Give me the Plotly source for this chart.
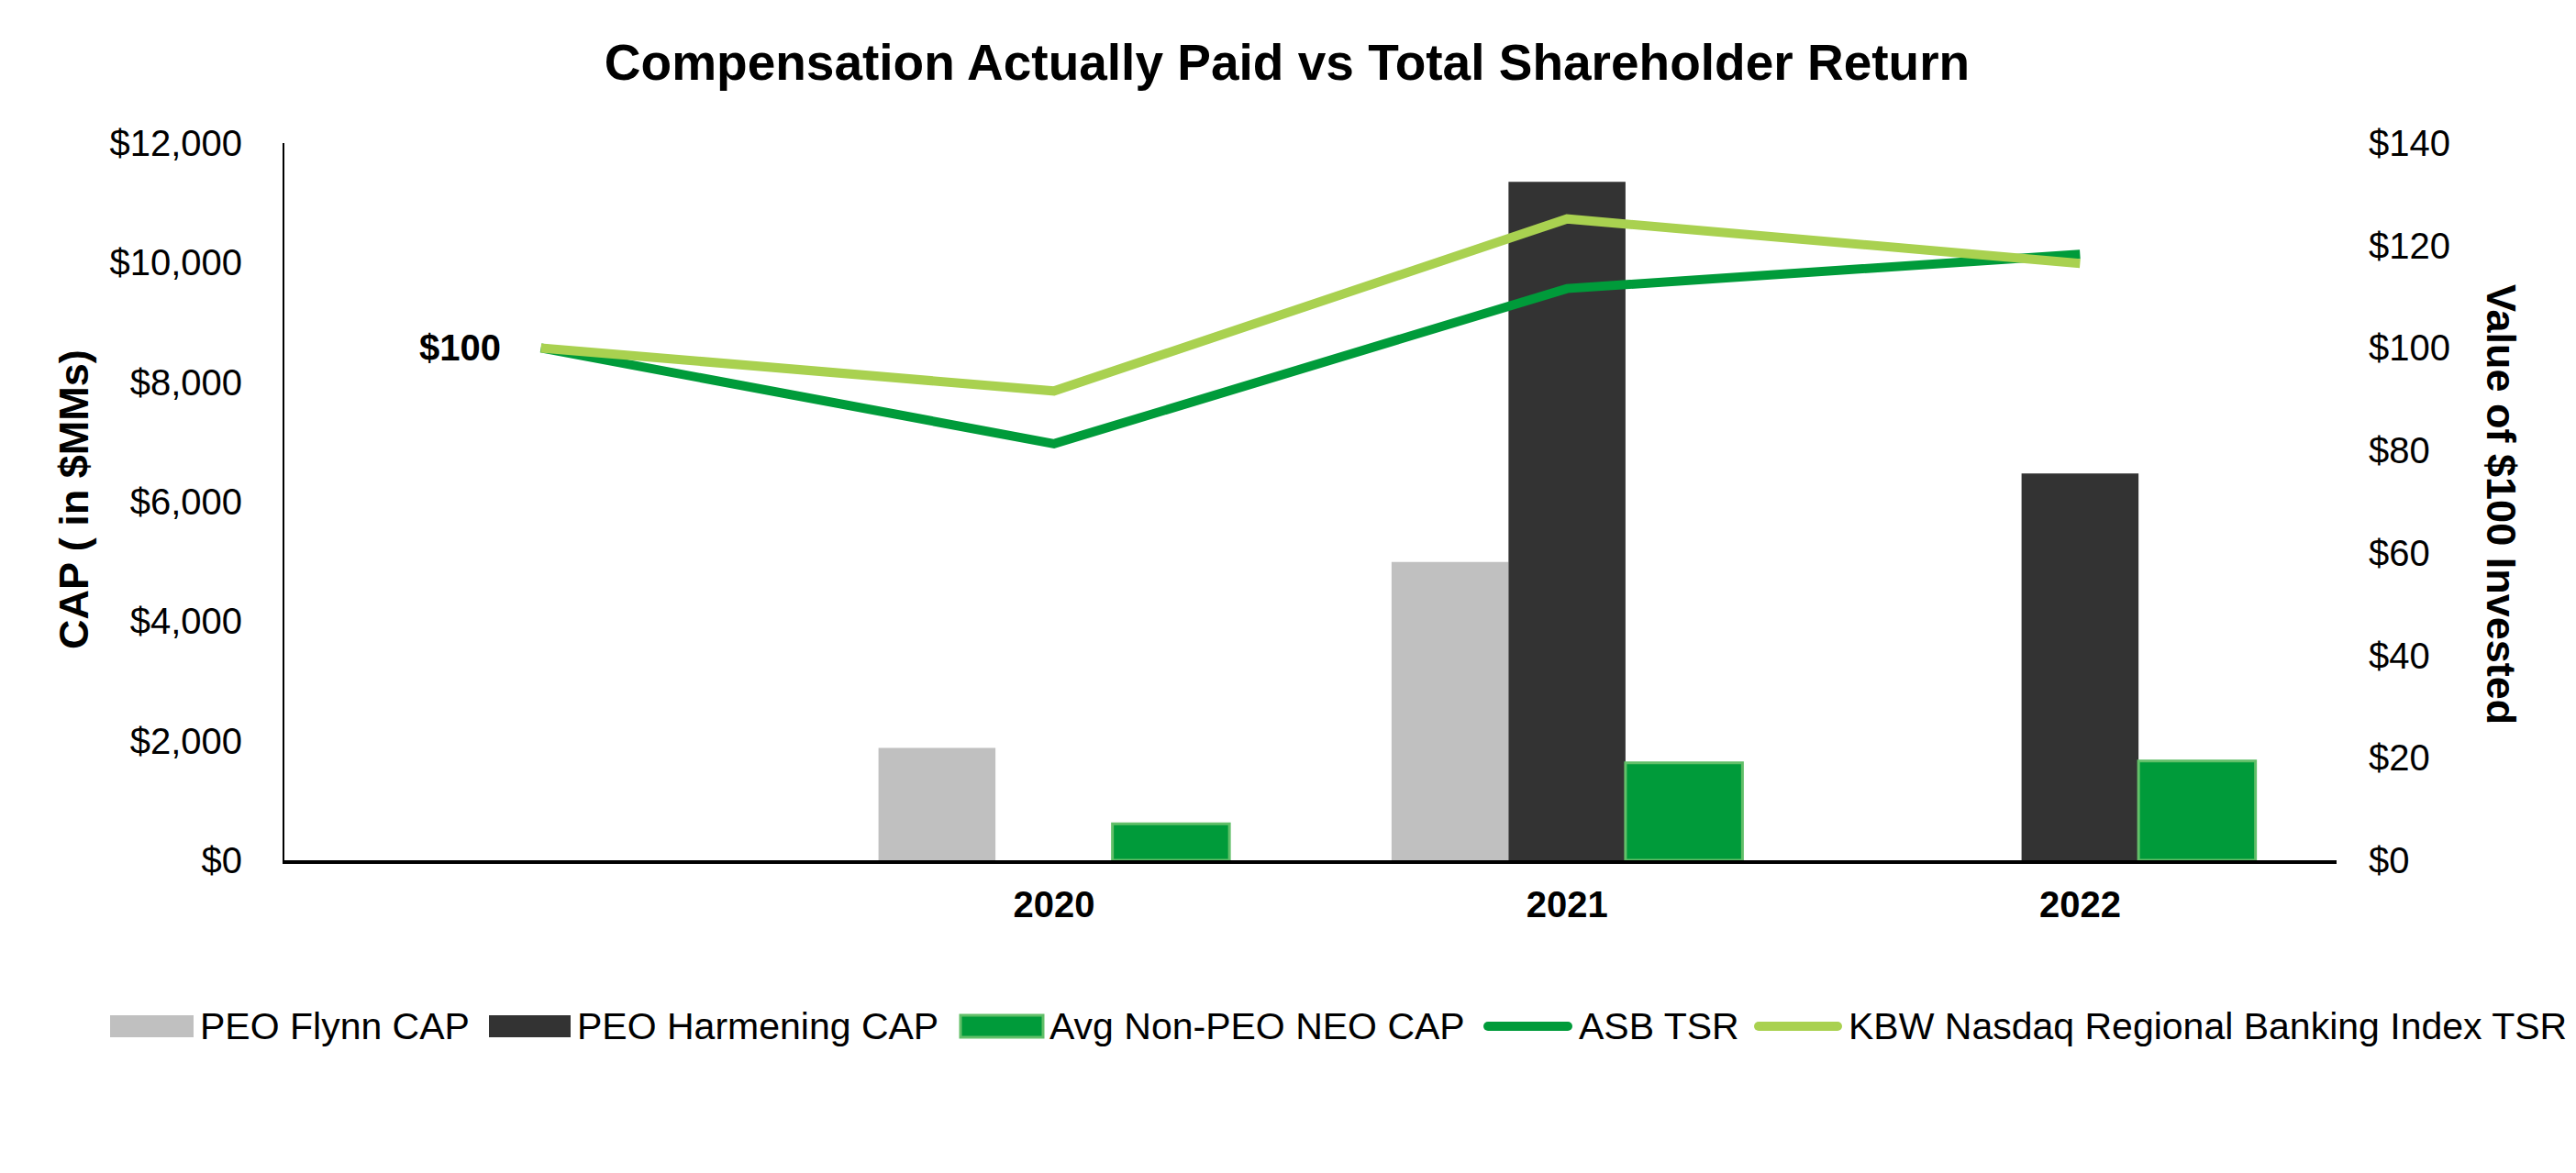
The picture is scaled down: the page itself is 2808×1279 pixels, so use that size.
import plotly.graph_objects as go

years = [2019, 2020, 2021, 2022]
tick_years = [2020, 2021, 2022]
tick_labels = ["2020", "2021", "2022"]

flynn_cap = [None, 1880, 4990, None]
harmening_cap = [None, None, 11350, 6470]
avg_neo_cap = [None, 610, 1630, 1660]

asb_tsr = [100, 81.3, 111.6, 118.3]
kbw_tsr = [100, 91.6, 125.2, 116.5]

left_ticks = [0, 2000, 4000, 6000, 8000, 10000, 12000]
left_tick_text = ["$0", "$2,000", "$4,000", "$6,000", "$8,000", "$10,000", "$12,000"]
right_ticks = [0, 20, 40, 60, 80, 100, 120, 140]
right_tick_text = ["$0", "$20", "$40", "$60", "$80", "$100", "$120", "$140"]

C_GRAY = "#C0C0C0"
C_DARK = "#333333"
C_GREEN = "#009B3A"
C_GREEN_EDGE = "#62BF69"
C_LIGHT = "#A9D150"
FONT = "Liberation Sans, Arial, sans-serif"

# page body has an 8px margin; size the figure so that it fills the window exactly
OFF = 8
W, H = 2808 - OFF, 1279 - OFF
ML, MR, MT, MB = 302, 261, 148, 341
PW, PH = W - ML - MR, H - MT - MB


def px_x(p):
    return (p - OFF - ML) / PW


def px_y(p):
    return (H - MB - (p - OFF)) / PH


fig = go.Figure()

bar_specs = [
    ("PEO Flynn CAP", flynn_cap, C_GRAY, C_GRAY, 0),
    ("PEO Harmening CAP", harmening_cap, C_DARK, C_DARK, 0),
    ("Avg Non-PEO NEO CAP", avg_neo_cap, C_GREEN, C_GREEN_EDGE, 3),
]
for name, vals, col, edge, lw in bar_specs:
    fig.add_trace(go.Bar(
        x=years, y=vals, name=name, yaxis="y",
        marker=dict(color=col, line=dict(color=edge, width=lw)),
    ))

line_specs = [("ASB TSR", asb_tsr, C_GREEN), ("KBW Nasdaq Regional Banking Index TSR", kbw_tsr, C_LIGHT)]
for name, vals, col in line_specs:
    fig.add_trace(go.Scatter(
        x=years, y=vals, name=name, mode="lines", yaxis="y2",
        line=dict(color=col, width=10),
    ))

# starting value label
fig.add_annotation(
    x=years[0], y=asb_tsr[0], xref="x", yref="y2", text="<b>$%d</b>" % asb_tsr[0],
    showarrow=False, xanchor="right", yanchor="middle", xshift=-42,
    font=dict(family=FONT, size=40, color="black"),
)

# axis titles
fig.add_annotation(
    x=px_x(80), y=px_y(545), xref="paper", yref="paper", text="<b>CAP ( in $MMs)</b>",
    textangle=-90, showarrow=False, xanchor="center", yanchor="middle",
    font=dict(family=FONT, size=45, color="black"),
)
fig.add_annotation(
    x=px_x(2727), y=px_y(550), xref="paper", yref="paper", text="<b>Value of $100 Invested</b>",
    textangle=90, showarrow=False, xanchor="center", yanchor="middle",
    font=dict(family=FONT, size=45, color="black"),
)

# legend (drawn manually to reproduce the wide symbols)
legend_y = 1119
legend_items = [
    ("PEO Flynn CAP", "bar", C_GRAY, C_GRAY, 120, 211),
    ("PEO Harmening CAP", "bar", C_DARK, C_DARK, 533, 622),
    ("Avg Non-PEO NEO CAP", "bar", C_GREEN, C_GREEN_EDGE, 1047, 1137),
    ("ASB TSR", "line", C_GREEN, C_GREEN, 1617, 1714),
    ("KBW Nasdaq Regional Banking Index TSR", "line", C_LIGHT, C_LIGHT, 1912, 2008),
]
for label, kind, col, edge, x0, x1 in legend_items:
    if kind == "bar":
        fig.add_shape(type="rect", xref="paper", yref="paper",
                      x0=px_x(x0), x1=px_x(x1), y0=px_y(legend_y - 12), y1=px_y(legend_y + 12),
                      fillcolor=col, line=dict(color=edge, width=3 if edge != col else 0))
    else:
        fig.add_shape(type="line", xref="paper", yref="paper",
                      x0=px_x(x0 + 5), x1=px_x(x1 - 5), y0=px_y(legend_y), y1=px_y(legend_y),
                      line=dict(color=col, width=10))
        for cx in (x0 + 5, x1 - 5):
            fig.add_shape(type="circle", xref="paper", yref="paper",
                          xsizemode="pixel", ysizemode="pixel",
                          xanchor=px_x(cx), yanchor=px_y(legend_y),
                          x0=-5, x1=5, y0=-5, y1=5,
                          fillcolor=col, line=dict(width=0))
    fig.add_annotation(
        x=px_x(x1 + 5), y=px_y(legend_y), xref="paper", yref="paper", text=label,
        showarrow=False, xanchor="left", yanchor="middle",
        font=dict(family=FONT, size=41, color="black"),
    )

fig.update_layout(
    width=W, height=H,
    paper_bgcolor="white", plot_bgcolor="white",
    margin=dict(l=ML, r=MR, t=MT, b=MB),
    title=dict(text="<b>Compensation Actually Paid vs Total Shareholder Return</b>",
               x=((661 + 2145) / 2 - OFF) / W, xanchor="center", y=1 - (68 - OFF) / H, yanchor="middle",
               font=dict(family=FONT, size=55, color="black")),
    barmode="group", bargap=0.316, bargroupgap=0,
    font=dict(family=FONT, size=40, color="black"),
    showlegend=False,
    xaxis=dict(range=[2018.5, 2022.5], tickvals=tick_years, ticktext=tick_labels,
               tickfont=dict(family=FONT, size=40, color="black", weight="bold"),
               showline=True, linecolor="black", linewidth=4, showgrid=False,
               zeroline=False, ticks="", ticklabelstandoff=10),
    yaxis=dict(range=[0, 12000], tickvals=left_ticks, ticktext=left_tick_text,
               tickfont=dict(family=FONT, size=40, color="black"),
               showline=True, linecolor="black", linewidth=2, showgrid=False,
               zeroline=False, ticks="", ticklabelstandoff=36),
    yaxis2=dict(range=[0, 140], tickvals=right_ticks, ticktext=right_tick_text,
                overlaying="y", side="right",
                tickfont=dict(family=FONT, size=40, color="black"),
                showline=False, showgrid=False, zeroline=False, ticks="",
                ticklabelstandoff=34),
)

fig.write_html("out.html")
